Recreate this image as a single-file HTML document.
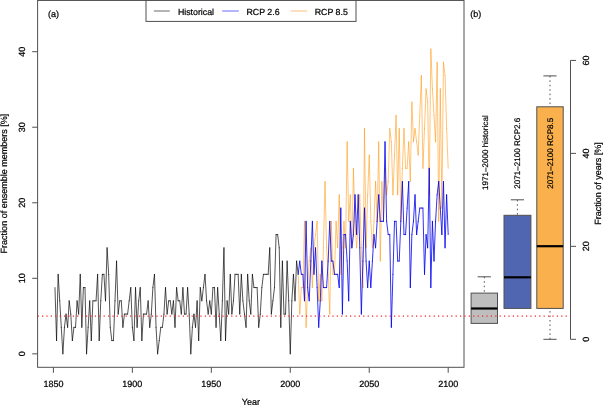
<!DOCTYPE html>
<html><head><meta charset="utf-8"><style>
html,body{margin:0;padding:0;background:#fff;}
body{width:603px;height:405px;overflow:hidden;}
svg{display:block;filter:blur(0.35px);}
text{text-rendering:geometricPrecision;font-family:"Liberation Sans", sans-serif;fill:#000;stroke:#000;stroke-width:0.22px;}
text.sm{stroke-width:0.2px;}
.sh line{stroke:#000;stroke-opacity:0.8;stroke-width:0.85;stroke-linecap:round;}
.so line{stroke:#ff9200;stroke-opacity:0.74;stroke-width:0.72;stroke-linecap:round;}
.sb line{stroke:#0000f0;stroke-opacity:0.88;stroke-width:0.92;stroke-linecap:round;}
</style></head><body>
<svg width="603" height="405" viewBox="0 0 603 405">
<rect x="37.6" y="0.3" width="426.4" height="367" fill="none" stroke="#505050" stroke-width="1"/>
<line x1="32.2" y1="353.85" x2="37.6" y2="353.85" stroke="#505050" stroke-width="1"/>
<text x="25" y="353.85" transform="rotate(-90 25 353.85)" text-anchor="middle" font-size="9">0</text>
<line x1="32.2" y1="278.31" x2="37.6" y2="278.31" stroke="#505050" stroke-width="1"/>
<text x="25" y="278.31" transform="rotate(-90 25 278.31)" text-anchor="middle" font-size="9">10</text>
<line x1="32.2" y1="202.77" x2="37.6" y2="202.77" stroke="#505050" stroke-width="1"/>
<text x="25" y="202.77" transform="rotate(-90 25 202.77)" text-anchor="middle" font-size="9">20</text>
<line x1="32.2" y1="127.23" x2="37.6" y2="127.23" stroke="#505050" stroke-width="1"/>
<text x="25" y="127.23" transform="rotate(-90 25 127.23)" text-anchor="middle" font-size="9">30</text>
<line x1="32.2" y1="51.69" x2="37.6" y2="51.69" stroke="#505050" stroke-width="1"/>
<text x="25" y="51.69" transform="rotate(-90 25 51.69)" text-anchor="middle" font-size="9">40</text>
<line x1="53.40" y1="367.3" x2="53.40" y2="372.8" stroke="#505050" stroke-width="1"/>
<text x="53.40" y="386.6" text-anchor="middle" font-size="9">1850</text>
<line x1="132.36" y1="367.3" x2="132.36" y2="372.8" stroke="#505050" stroke-width="1"/>
<text x="132.36" y="386.6" text-anchor="middle" font-size="9">1900</text>
<line x1="211.32" y1="367.3" x2="211.32" y2="372.8" stroke="#505050" stroke-width="1"/>
<text x="211.32" y="386.6" text-anchor="middle" font-size="9">1950</text>
<line x1="290.28" y1="367.3" x2="290.28" y2="372.8" stroke="#505050" stroke-width="1"/>
<text x="290.28" y="386.6" text-anchor="middle" font-size="9">2000</text>
<line x1="369.24" y1="367.3" x2="369.24" y2="372.8" stroke="#505050" stroke-width="1"/>
<text x="369.24" y="386.6" text-anchor="middle" font-size="9">2050</text>
<line x1="448.20" y1="367.3" x2="448.20" y2="372.8" stroke="#505050" stroke-width="1"/>
<text x="448.20" y="386.6" text-anchor="middle" font-size="9">2100</text>
<text x="250.8" y="404.8" text-anchor="middle" font-size="9">Year</text>
<text x="7.4" y="183.6" transform="rotate(-90 7.4 183.6)" text-anchor="middle" font-size="9">Fraction of ensemble members [%]</text>
<text x="48" y="16.8" font-size="9">(a)</text>
<g class="sh"><line x1="54.98" y1="287.59" x2="56.56" y2="340.60"/><line x1="56.56" y1="340.60" x2="58.14" y2="274.33"/><line x1="58.14" y1="274.33" x2="59.72" y2="300.84"/><line x1="59.72" y1="300.84" x2="61.30" y2="327.34"/><line x1="61.30" y1="327.34" x2="62.88" y2="353.85"/><line x1="62.88" y1="353.85" x2="64.45" y2="327.34"/><line x1="64.45" y1="327.34" x2="66.03" y2="314.09"/><line x1="66.03" y1="314.09" x2="67.61" y2="327.34"/><line x1="67.61" y1="327.34" x2="69.19" y2="300.84"/><line x1="69.19" y1="300.84" x2="70.77" y2="314.09"/><line x1="70.77" y1="314.09" x2="72.35" y2="340.60"/><line x1="72.35" y1="340.60" x2="73.93" y2="327.34"/><line x1="73.93" y1="327.34" x2="75.51" y2="327.34"/><line x1="75.51" y1="327.34" x2="77.09" y2="300.84"/><line x1="77.09" y1="300.84" x2="78.67" y2="314.09"/><line x1="78.67" y1="314.09" x2="80.25" y2="274.33"/><line x1="80.25" y1="274.33" x2="81.83" y2="327.34"/><line x1="81.83" y1="327.34" x2="83.40" y2="287.59"/><line x1="83.40" y1="287.59" x2="84.98" y2="287.59"/><line x1="84.98" y1="287.59" x2="86.56" y2="353.85"/><line x1="86.56" y1="353.85" x2="88.14" y2="327.34"/><line x1="88.14" y1="327.34" x2="89.72" y2="300.84"/><line x1="89.72" y1="300.84" x2="91.30" y2="340.60"/><line x1="91.30" y1="340.60" x2="92.88" y2="300.84"/><line x1="92.88" y1="300.84" x2="94.46" y2="300.84"/><line x1="94.46" y1="300.84" x2="96.04" y2="300.84"/><line x1="96.04" y1="300.84" x2="97.62" y2="274.33"/><line x1="97.62" y1="274.33" x2="99.20" y2="340.60"/><line x1="99.20" y1="340.60" x2="100.78" y2="300.84"/><line x1="100.78" y1="300.84" x2="102.36" y2="274.33"/><line x1="102.36" y1="274.33" x2="103.93" y2="274.33"/><line x1="103.93" y1="274.33" x2="105.51" y2="300.84"/><line x1="105.51" y1="300.84" x2="107.09" y2="247.83"/><line x1="107.09" y1="247.83" x2="108.67" y2="274.33"/><line x1="108.67" y1="274.33" x2="110.25" y2="327.34"/><line x1="110.25" y1="327.34" x2="111.83" y2="340.60"/><line x1="111.83" y1="340.60" x2="113.41" y2="340.60"/><line x1="113.41" y1="340.60" x2="114.99" y2="300.84"/><line x1="114.99" y1="300.84" x2="116.57" y2="261.08"/><line x1="116.57" y1="261.08" x2="118.15" y2="314.09"/><line x1="118.15" y1="314.09" x2="119.73" y2="300.84"/><line x1="119.73" y1="300.84" x2="121.31" y2="300.84"/><line x1="121.31" y1="300.84" x2="122.88" y2="327.34"/><line x1="122.88" y1="327.34" x2="124.46" y2="314.09"/><line x1="124.46" y1="314.09" x2="126.04" y2="314.09"/><line x1="126.04" y1="314.09" x2="127.62" y2="314.09"/><line x1="127.62" y1="314.09" x2="129.20" y2="300.84"/><line x1="129.20" y1="300.84" x2="130.78" y2="287.59"/><line x1="130.78" y1="287.59" x2="132.36" y2="327.34"/><line x1="132.36" y1="327.34" x2="133.94" y2="340.60"/><line x1="133.94" y1="340.60" x2="135.52" y2="287.59"/><line x1="135.52" y1="287.59" x2="137.10" y2="327.34"/><line x1="137.10" y1="327.34" x2="138.68" y2="300.84"/><line x1="138.68" y1="300.84" x2="140.26" y2="287.59"/><line x1="140.26" y1="287.59" x2="141.84" y2="340.60"/><line x1="141.84" y1="340.60" x2="143.41" y2="314.09"/><line x1="143.41" y1="314.09" x2="144.99" y2="314.09"/><line x1="144.99" y1="314.09" x2="146.57" y2="314.09"/><line x1="146.57" y1="314.09" x2="148.15" y2="300.84"/><line x1="148.15" y1="300.84" x2="149.73" y2="327.34"/><line x1="149.73" y1="327.34" x2="151.31" y2="314.09"/><line x1="151.31" y1="314.09" x2="152.89" y2="287.59"/><line x1="152.89" y1="287.59" x2="154.47" y2="274.33"/><line x1="154.47" y1="274.33" x2="156.05" y2="327.34"/><line x1="156.05" y1="327.34" x2="157.63" y2="353.85"/><line x1="157.63" y1="353.85" x2="159.21" y2="340.60"/><line x1="159.21" y1="340.60" x2="160.79" y2="327.34"/><line x1="160.79" y1="327.34" x2="162.36" y2="327.34"/><line x1="162.36" y1="327.34" x2="163.94" y2="314.09"/><line x1="163.94" y1="314.09" x2="165.52" y2="287.59"/><line x1="165.52" y1="287.59" x2="167.10" y2="314.09"/><line x1="167.10" y1="314.09" x2="168.68" y2="300.84"/><line x1="168.68" y1="300.84" x2="170.26" y2="300.84"/><line x1="170.26" y1="300.84" x2="171.84" y2="314.09"/><line x1="171.84" y1="314.09" x2="173.42" y2="300.84"/><line x1="173.42" y1="300.84" x2="175.00" y2="327.34"/><line x1="175.00" y1="327.34" x2="176.58" y2="287.59"/><line x1="176.58" y1="287.59" x2="178.16" y2="300.84"/><line x1="178.16" y1="300.84" x2="179.74" y2="300.84"/><line x1="179.74" y1="300.84" x2="181.32" y2="314.09"/><line x1="181.32" y1="314.09" x2="182.89" y2="287.59"/><line x1="182.89" y1="287.59" x2="184.47" y2="314.09"/><line x1="184.47" y1="314.09" x2="186.05" y2="314.09"/><line x1="186.05" y1="314.09" x2="187.63" y2="287.59"/><line x1="187.63" y1="287.59" x2="189.21" y2="314.09"/><line x1="189.21" y1="314.09" x2="190.79" y2="353.85"/><line x1="190.79" y1="353.85" x2="192.37" y2="327.34"/><line x1="192.37" y1="327.34" x2="193.95" y2="314.09"/><line x1="193.95" y1="314.09" x2="195.53" y2="327.34"/><line x1="195.53" y1="327.34" x2="197.11" y2="300.84"/><line x1="197.11" y1="300.84" x2="198.69" y2="340.60"/><line x1="198.69" y1="340.60" x2="200.27" y2="287.59"/><line x1="200.27" y1="287.59" x2="201.84" y2="300.84"/><line x1="201.84" y1="300.84" x2="203.42" y2="287.59"/><line x1="203.42" y1="287.59" x2="205.00" y2="274.33"/><line x1="205.00" y1="274.33" x2="206.58" y2="300.84"/><line x1="206.58" y1="300.84" x2="208.16" y2="314.09"/><line x1="208.16" y1="314.09" x2="209.74" y2="300.84"/><line x1="209.74" y1="300.84" x2="211.32" y2="314.09"/><line x1="211.32" y1="314.09" x2="212.90" y2="287.59"/><line x1="212.90" y1="287.59" x2="214.48" y2="287.59"/><line x1="214.48" y1="287.59" x2="216.06" y2="327.34"/><line x1="216.06" y1="327.34" x2="217.64" y2="287.59"/><line x1="217.64" y1="287.59" x2="219.22" y2="314.09"/><line x1="219.22" y1="314.09" x2="220.80" y2="340.60"/><line x1="220.80" y1="340.60" x2="222.37" y2="300.84"/><line x1="222.37" y1="300.84" x2="223.95" y2="247.83"/><line x1="223.95" y1="247.83" x2="225.53" y2="340.60"/><line x1="225.53" y1="340.60" x2="227.11" y2="300.84"/><line x1="227.11" y1="300.84" x2="228.69" y2="314.09"/><line x1="228.69" y1="314.09" x2="230.27" y2="274.33"/><line x1="230.27" y1="274.33" x2="231.85" y2="314.09"/><line x1="231.85" y1="314.09" x2="233.43" y2="300.84"/><line x1="233.43" y1="300.84" x2="235.01" y2="274.33"/><line x1="235.01" y1="274.33" x2="236.59" y2="274.33"/><line x1="236.59" y1="274.33" x2="238.17" y2="274.33"/><line x1="238.17" y1="274.33" x2="239.75" y2="314.09"/><line x1="239.75" y1="314.09" x2="241.32" y2="274.33"/><line x1="241.32" y1="274.33" x2="242.90" y2="300.84"/><line x1="242.90" y1="300.84" x2="244.48" y2="314.09"/><line x1="244.48" y1="314.09" x2="246.06" y2="327.34"/><line x1="246.06" y1="327.34" x2="247.64" y2="274.33"/><line x1="247.64" y1="274.33" x2="249.22" y2="300.84"/><line x1="249.22" y1="300.84" x2="250.80" y2="314.09"/><line x1="250.80" y1="314.09" x2="252.38" y2="274.33"/><line x1="252.38" y1="274.33" x2="253.96" y2="287.59"/><line x1="253.96" y1="287.59" x2="255.54" y2="287.59"/><line x1="255.54" y1="287.59" x2="257.12" y2="287.59"/><line x1="257.12" y1="287.59" x2="258.70" y2="327.34"/><line x1="258.70" y1="327.34" x2="260.28" y2="314.09"/><line x1="260.28" y1="314.09" x2="261.85" y2="287.59"/><line x1="261.85" y1="287.59" x2="263.43" y2="274.33"/><line x1="263.43" y1="274.33" x2="265.01" y2="274.33"/><line x1="265.01" y1="274.33" x2="266.59" y2="274.33"/><line x1="266.59" y1="274.33" x2="268.17" y2="274.33"/><line x1="268.17" y1="274.33" x2="269.75" y2="247.83"/><line x1="269.75" y1="247.83" x2="271.33" y2="314.09"/><line x1="271.33" y1="314.09" x2="272.91" y2="300.84"/><line x1="272.91" y1="300.84" x2="274.49" y2="287.59"/><line x1="274.49" y1="287.59" x2="276.07" y2="234.57"/><line x1="276.07" y1="234.57" x2="277.65" y2="234.57"/><line x1="277.65" y1="234.57" x2="279.23" y2="247.83"/><line x1="279.23" y1="247.83" x2="280.80" y2="327.34"/><line x1="280.80" y1="327.34" x2="282.38" y2="261.08"/><line x1="282.38" y1="261.08" x2="283.96" y2="314.09"/><line x1="283.96" y1="314.09" x2="285.54" y2="314.09"/><line x1="285.54" y1="314.09" x2="287.12" y2="261.08"/><line x1="287.12" y1="261.08" x2="288.70" y2="300.84"/><line x1="288.70" y1="300.84" x2="290.28" y2="353.85"/><line x1="290.28" y1="353.85" x2="291.86" y2="300.84"/><line x1="291.86" y1="300.84" x2="293.44" y2="274.33"/><line x1="293.44" y1="274.33" x2="295.02" y2="300.84"/><line x1="295.02" y1="300.84" x2="296.60" y2="261.08"/><line x1="296.60" y1="261.08" x2="298.18" y2="274.33"/></g>
<g class="so"><line x1="298.18" y1="274.33" x2="299.76" y2="314.09"/><line x1="299.76" y1="314.09" x2="301.33" y2="287.59"/><line x1="301.33" y1="287.59" x2="302.91" y2="287.59"/><line x1="302.91" y1="287.59" x2="304.49" y2="221.32"/><line x1="304.49" y1="221.32" x2="306.07" y2="327.34"/><line x1="306.07" y1="327.34" x2="307.65" y2="287.59"/><line x1="307.65" y1="287.59" x2="309.23" y2="261.08"/><line x1="309.23" y1="261.08" x2="310.81" y2="247.83"/><line x1="310.81" y1="247.83" x2="312.39" y2="287.59"/><line x1="312.39" y1="287.59" x2="313.97" y2="247.83"/><line x1="313.97" y1="247.83" x2="315.55" y2="234.57"/><line x1="315.55" y1="234.57" x2="317.13" y2="221.32"/><line x1="317.13" y1="221.32" x2="318.71" y2="300.84"/><line x1="318.71" y1="300.84" x2="320.28" y2="274.33"/><line x1="320.28" y1="274.33" x2="321.86" y2="300.84"/><line x1="321.86" y1="300.84" x2="323.44" y2="247.83"/><line x1="323.44" y1="247.83" x2="325.02" y2="181.56"/><line x1="325.02" y1="181.56" x2="326.60" y2="247.83"/><line x1="326.60" y1="247.83" x2="328.18" y2="274.33"/><line x1="328.18" y1="274.33" x2="329.76" y2="314.09"/><line x1="329.76" y1="314.09" x2="331.34" y2="221.32"/><line x1="331.34" y1="221.32" x2="332.92" y2="274.33"/><line x1="332.92" y1="274.33" x2="334.50" y2="274.33"/><line x1="334.50" y1="274.33" x2="336.08" y2="221.32"/><line x1="336.08" y1="221.32" x2="337.66" y2="247.83"/><line x1="337.66" y1="247.83" x2="339.24" y2="194.81"/><line x1="339.24" y1="194.81" x2="340.81" y2="274.33"/><line x1="340.81" y1="274.33" x2="342.39" y2="247.83"/><line x1="342.39" y1="247.83" x2="343.97" y2="221.32"/><line x1="343.97" y1="221.32" x2="345.55" y2="247.83"/><line x1="345.55" y1="247.83" x2="347.13" y2="141.80"/><line x1="347.13" y1="141.80" x2="348.71" y2="221.32"/><line x1="348.71" y1="221.32" x2="350.29" y2="194.81"/><line x1="350.29" y1="194.81" x2="351.87" y2="247.83"/><line x1="351.87" y1="247.83" x2="353.45" y2="168.31"/><line x1="353.45" y1="168.31" x2="355.03" y2="221.32"/><line x1="355.03" y1="221.32" x2="356.61" y2="247.83"/><line x1="356.61" y1="247.83" x2="358.19" y2="221.32"/><line x1="358.19" y1="221.32" x2="359.76" y2="194.81"/><line x1="359.76" y1="194.81" x2="361.34" y2="247.83"/><line x1="361.34" y1="247.83" x2="362.92" y2="287.59"/><line x1="362.92" y1="287.59" x2="364.50" y2="128.55"/><line x1="364.50" y1="128.55" x2="366.08" y2="247.83"/><line x1="366.08" y1="247.83" x2="367.66" y2="194.81"/><line x1="367.66" y1="194.81" x2="369.24" y2="155.06"/><line x1="369.24" y1="155.06" x2="370.82" y2="221.32"/><line x1="370.82" y1="221.32" x2="372.40" y2="247.83"/><line x1="372.40" y1="247.83" x2="373.98" y2="221.32"/><line x1="373.98" y1="221.32" x2="375.56" y2="181.56"/><line x1="375.56" y1="181.56" x2="377.14" y2="221.32"/><line x1="377.14" y1="221.32" x2="378.72" y2="141.80"/><line x1="378.72" y1="141.80" x2="380.29" y2="261.08"/><line x1="380.29" y1="261.08" x2="381.87" y2="181.56"/><line x1="381.87" y1="181.56" x2="383.45" y2="221.32"/><line x1="383.45" y1="221.32" x2="385.03" y2="168.31"/><line x1="385.03" y1="168.31" x2="386.61" y2="194.81"/><line x1="386.61" y1="194.81" x2="388.19" y2="181.56"/><line x1="388.19" y1="181.56" x2="389.77" y2="128.55"/><line x1="389.77" y1="128.55" x2="391.35" y2="141.80"/><line x1="391.35" y1="141.80" x2="392.93" y2="194.81"/><line x1="392.93" y1="194.81" x2="394.51" y2="155.06"/><line x1="394.51" y1="155.06" x2="396.09" y2="115.30"/><line x1="396.09" y1="115.30" x2="397.67" y2="194.81"/><line x1="397.67" y1="194.81" x2="399.24" y2="128.55"/><line x1="399.24" y1="128.55" x2="400.82" y2="221.32"/><line x1="400.82" y1="221.32" x2="402.40" y2="168.31"/><line x1="402.40" y1="168.31" x2="403.98" y2="128.55"/><line x1="403.98" y1="128.55" x2="405.56" y2="168.31"/><line x1="405.56" y1="168.31" x2="407.14" y2="168.31"/><line x1="407.14" y1="168.31" x2="408.72" y2="141.80"/><line x1="408.72" y1="141.80" x2="410.30" y2="181.56"/><line x1="410.30" y1="181.56" x2="411.88" y2="102.04"/><line x1="411.88" y1="102.04" x2="413.46" y2="141.80"/><line x1="413.46" y1="141.80" x2="415.04" y2="128.55"/><line x1="415.04" y1="128.55" x2="416.62" y2="141.80"/><line x1="416.62" y1="141.80" x2="418.20" y2="155.06"/><line x1="418.20" y1="155.06" x2="419.77" y2="115.30"/><line x1="419.77" y1="115.30" x2="421.35" y2="75.54"/><line x1="421.35" y1="75.54" x2="422.93" y2="168.31"/><line x1="422.93" y1="168.31" x2="424.51" y2="128.55"/><line x1="424.51" y1="128.55" x2="426.09" y2="88.79"/><line x1="426.09" y1="88.79" x2="427.67" y2="102.04"/><line x1="427.67" y1="102.04" x2="429.25" y2="194.81"/><line x1="429.25" y1="194.81" x2="430.83" y2="49.03"/><line x1="430.83" y1="49.03" x2="432.41" y2="88.79"/><line x1="432.41" y1="88.79" x2="433.99" y2="115.30"/><line x1="433.99" y1="115.30" x2="435.57" y2="141.80"/><line x1="435.57" y1="141.80" x2="437.15" y2="62.28"/><line x1="437.15" y1="62.28" x2="438.72" y2="221.32"/><line x1="438.72" y1="221.32" x2="440.30" y2="88.79"/><line x1="440.30" y1="88.79" x2="441.88" y2="208.07"/><line x1="441.88" y1="208.07" x2="443.46" y2="62.28"/><line x1="443.46" y1="62.28" x2="445.04" y2="75.54"/><line x1="445.04" y1="75.54" x2="446.62" y2="128.55"/><line x1="446.62" y1="128.55" x2="448.20" y2="168.31"/></g>
<g class="sb"><line x1="298.18" y1="274.33" x2="299.76" y2="261.08"/><line x1="299.76" y1="261.08" x2="301.33" y2="274.33"/><line x1="301.33" y1="274.33" x2="302.91" y2="274.33"/><line x1="302.91" y1="274.33" x2="304.49" y2="300.84"/><line x1="304.49" y1="300.84" x2="306.07" y2="221.32"/><line x1="306.07" y1="221.32" x2="307.65" y2="287.59"/><line x1="307.65" y1="287.59" x2="309.23" y2="300.84"/><line x1="309.23" y1="300.84" x2="310.81" y2="261.08"/><line x1="310.81" y1="261.08" x2="312.39" y2="221.32"/><line x1="312.39" y1="221.32" x2="313.97" y2="274.33"/><line x1="313.97" y1="274.33" x2="315.55" y2="247.83"/><line x1="315.55" y1="247.83" x2="317.13" y2="287.59"/><line x1="317.13" y1="287.59" x2="318.71" y2="327.34"/><line x1="318.71" y1="327.34" x2="320.28" y2="300.84"/><line x1="320.28" y1="300.84" x2="321.86" y2="261.08"/><line x1="321.86" y1="261.08" x2="323.44" y2="287.59"/><line x1="323.44" y1="287.59" x2="325.02" y2="287.59"/><line x1="325.02" y1="287.59" x2="326.60" y2="287.59"/><line x1="326.60" y1="287.59" x2="328.18" y2="261.08"/><line x1="328.18" y1="261.08" x2="329.76" y2="221.32"/><line x1="329.76" y1="221.32" x2="331.34" y2="261.08"/><line x1="331.34" y1="261.08" x2="332.92" y2="261.08"/><line x1="332.92" y1="261.08" x2="334.50" y2="274.33"/><line x1="334.50" y1="274.33" x2="336.08" y2="274.33"/><line x1="336.08" y1="274.33" x2="337.66" y2="274.33"/><line x1="337.66" y1="274.33" x2="339.24" y2="287.59"/><line x1="339.24" y1="287.59" x2="340.81" y2="208.07"/><line x1="340.81" y1="208.07" x2="342.39" y2="314.09"/><line x1="342.39" y1="314.09" x2="343.97" y2="234.57"/><line x1="343.97" y1="234.57" x2="345.55" y2="234.57"/><line x1="345.55" y1="234.57" x2="347.13" y2="261.08"/><line x1="347.13" y1="261.08" x2="348.71" y2="300.84"/><line x1="348.71" y1="300.84" x2="350.29" y2="221.32"/><line x1="350.29" y1="221.32" x2="351.87" y2="247.83"/><line x1="351.87" y1="247.83" x2="353.45" y2="234.57"/><line x1="353.45" y1="234.57" x2="355.03" y2="194.81"/><line x1="355.03" y1="194.81" x2="356.61" y2="234.57"/><line x1="356.61" y1="234.57" x2="358.19" y2="194.81"/><line x1="358.19" y1="194.81" x2="359.76" y2="247.83"/><line x1="359.76" y1="247.83" x2="361.34" y2="314.09"/><line x1="361.34" y1="314.09" x2="362.92" y2="261.08"/><line x1="362.92" y1="261.08" x2="364.50" y2="208.07"/><line x1="364.50" y1="208.07" x2="366.08" y2="261.08"/><line x1="366.08" y1="261.08" x2="367.66" y2="287.59"/><line x1="367.66" y1="287.59" x2="369.24" y2="261.08"/><line x1="369.24" y1="261.08" x2="370.82" y2="287.59"/><line x1="370.82" y1="287.59" x2="372.40" y2="261.08"/><line x1="372.40" y1="261.08" x2="373.98" y2="234.57"/><line x1="373.98" y1="234.57" x2="375.56" y2="247.83"/><line x1="375.56" y1="247.83" x2="377.14" y2="221.32"/><line x1="377.14" y1="221.32" x2="378.72" y2="194.81"/><line x1="378.72" y1="194.81" x2="380.29" y2="221.32"/><line x1="380.29" y1="221.32" x2="381.87" y2="221.32"/><line x1="381.87" y1="221.32" x2="383.45" y2="221.32"/><line x1="383.45" y1="221.32" x2="385.03" y2="141.80"/><line x1="385.03" y1="141.80" x2="386.61" y2="221.32"/><line x1="386.61" y1="221.32" x2="388.19" y2="234.57"/><line x1="388.19" y1="234.57" x2="389.77" y2="234.57"/><line x1="389.77" y1="234.57" x2="391.35" y2="327.34"/><line x1="391.35" y1="327.34" x2="392.93" y2="274.33"/><line x1="392.93" y1="274.33" x2="394.51" y2="221.32"/><line x1="394.51" y1="221.32" x2="396.09" y2="221.32"/><line x1="396.09" y1="221.32" x2="397.67" y2="261.08"/><line x1="397.67" y1="261.08" x2="399.24" y2="261.08"/><line x1="399.24" y1="261.08" x2="400.82" y2="221.32"/><line x1="400.82" y1="221.32" x2="402.40" y2="181.56"/><line x1="402.40" y1="181.56" x2="403.98" y2="234.57"/><line x1="403.98" y1="234.57" x2="405.56" y2="234.57"/><line x1="405.56" y1="234.57" x2="407.14" y2="208.07"/><line x1="407.14" y1="208.07" x2="408.72" y2="181.56"/><line x1="408.72" y1="181.56" x2="410.30" y2="287.59"/><line x1="410.30" y1="287.59" x2="411.88" y2="234.57"/><line x1="411.88" y1="234.57" x2="413.46" y2="221.32"/><line x1="413.46" y1="221.32" x2="415.04" y2="194.81"/><line x1="415.04" y1="194.81" x2="416.62" y2="234.57"/><line x1="416.62" y1="234.57" x2="418.20" y2="221.32"/><line x1="418.20" y1="221.32" x2="419.77" y2="208.07"/><line x1="419.77" y1="208.07" x2="421.35" y2="208.07"/><line x1="421.35" y1="208.07" x2="422.93" y2="208.07"/><line x1="422.93" y1="208.07" x2="424.51" y2="274.33"/><line x1="424.51" y1="274.33" x2="426.09" y2="234.57"/><line x1="426.09" y1="234.57" x2="427.67" y2="247.83"/><line x1="427.67" y1="247.83" x2="429.25" y2="168.31"/><line x1="429.25" y1="168.31" x2="430.83" y2="287.59"/><line x1="430.83" y1="287.59" x2="432.41" y2="221.32"/><line x1="432.41" y1="221.32" x2="433.99" y2="261.08"/><line x1="433.99" y1="261.08" x2="435.57" y2="221.32"/><line x1="435.57" y1="221.32" x2="437.15" y2="194.81"/><line x1="437.15" y1="194.81" x2="438.72" y2="181.56"/><line x1="438.72" y1="181.56" x2="440.30" y2="208.07"/><line x1="440.30" y1="208.07" x2="441.88" y2="234.57"/><line x1="441.88" y1="234.57" x2="443.46" y2="181.56"/><line x1="443.46" y1="181.56" x2="445.04" y2="247.83"/><line x1="445.04" y1="247.83" x2="446.62" y2="194.81"/><line x1="446.62" y1="194.81" x2="448.20" y2="234.57"/></g>
<rect x="146" y="0.3" width="210" height="21.1" fill="#fff" stroke="#505050" stroke-width="1"/>
<line x1="37.6" y1="0.3" x2="464" y2="0.3" stroke="#505050" stroke-width="1"/>
<line x1="153.9" y1="11" x2="169.8" y2="11" stroke="#6a6a6a" stroke-width="1"/>
<line x1="222.2" y1="11" x2="238.8" y2="11" stroke="#6a6aff" stroke-width="1"/>
<line x1="290.9" y1="11" x2="307.2" y2="11" stroke="#fbbf7a" stroke-width="1"/>
<text x="177.9" y="14.9" font-size="8.8">Historical</text>
<text x="246.5" y="14.9" font-size="8.8">RCP 2.6</text>
<text x="314.7" y="14.9" font-size="8.8">RCP 8.5</text>
<text x="470.3" y="16.8" font-size="9">(b)</text>
<line x1="570.5" y1="339.30" x2="570.5" y2="60.42" stroke="#505050" stroke-width="1"/>
<line x1="570.5" y1="339.30" x2="576" y2="339.30" stroke="#505050" stroke-width="1"/>
<text x="589.5" y="339.30" transform="rotate(-90 589.5 339.30)" text-anchor="middle" font-size="9">0</text>
<line x1="570.5" y1="246.34" x2="576" y2="246.34" stroke="#505050" stroke-width="1"/>
<text x="589.5" y="246.34" transform="rotate(-90 589.5 246.34)" text-anchor="middle" font-size="9">20</text>
<line x1="570.5" y1="153.38" x2="576" y2="153.38" stroke="#505050" stroke-width="1"/>
<text x="589.5" y="153.38" transform="rotate(-90 589.5 153.38)" text-anchor="middle" font-size="9">40</text>
<line x1="570.5" y1="60.42" x2="576" y2="60.42" stroke="#505050" stroke-width="1"/>
<text x="589.5" y="60.42" transform="rotate(-90 589.5 60.42)" text-anchor="middle" font-size="9">60</text>
<text x="601.5" y="183.6" transform="rotate(-90 601.5 183.6)" text-anchor="middle" font-size="9">Fraction of years [%]</text>
<line x1="484.3" y1="276.8" x2="484.3" y2="293.1" stroke="#505050" stroke-width="1" stroke-dasharray="1.5 2.95"/><line x1="477.7" y1="276.8" x2="490.90000000000003" y2="276.8" stroke="#505050" stroke-width="1"/><rect x="471.1" y="293.1" width="26.399999999999977" height="30.299999999999955" fill="#bebebe" stroke="#505050" stroke-width="1"/><line x1="471.1" y1="308.5" x2="497.5" y2="308.5" stroke="#000" stroke-width="2.2"/>
<line x1="517.4" y1="199.8" x2="517.4" y2="215.3" stroke="#505050" stroke-width="1" stroke-dasharray="1.5 2.95"/><line x1="510.79999999999995" y1="199.8" x2="524.0" y2="199.8" stroke="#505050" stroke-width="1"/><rect x="504.0" y="215.3" width="26.899999999999977" height="93.09999999999997" fill="#5066b0" stroke="#505050" stroke-width="1"/><line x1="504.0" y1="277.3" x2="530.9" y2="277.3" stroke="#000" stroke-width="2.2"/>
<line x1="550.0" y1="75.9" x2="550.0" y2="106.8" stroke="#505050" stroke-width="1" stroke-dasharray="1.5 2.95"/><line x1="543.4" y1="75.9" x2="556.6" y2="75.9" stroke="#505050" stroke-width="1"/><line x1="550.0" y1="339.3" x2="550.0" y2="308.4" stroke="#505050" stroke-width="1" stroke-dasharray="1.5 2.95"/><line x1="543.4" y1="339.3" x2="556.6" y2="339.3" stroke="#505050" stroke-width="1"/><rect x="536.8" y="106.8" width="26.40000000000009" height="201.59999999999997" fill="#fab04c" stroke="#505050" stroke-width="1"/><line x1="536.8" y1="246.2" x2="563.2" y2="246.2" stroke="#000" stroke-width="2.2"/>
<text x="487.6" y="190" transform="rotate(-90 487.6 190)" font-size="8.1" class="sm">1971–2000 historical</text>
<text x="520.2" y="188.8" transform="rotate(-90 520.2 188.8)" font-size="8.1" class="sm">2071–2100 RCP2.6</text>
<text x="553.0" y="188.8" transform="rotate(-90 553.0 188.8)" font-size="8.1" class="sm">2071–2100 RCP8.5</text>
<line x1="37.6" y1="316.2" x2="570.5" y2="316.2" stroke="#ff2020" stroke-width="1.2" stroke-dasharray="1.2 3.2"/>
</svg>
</body></html>
